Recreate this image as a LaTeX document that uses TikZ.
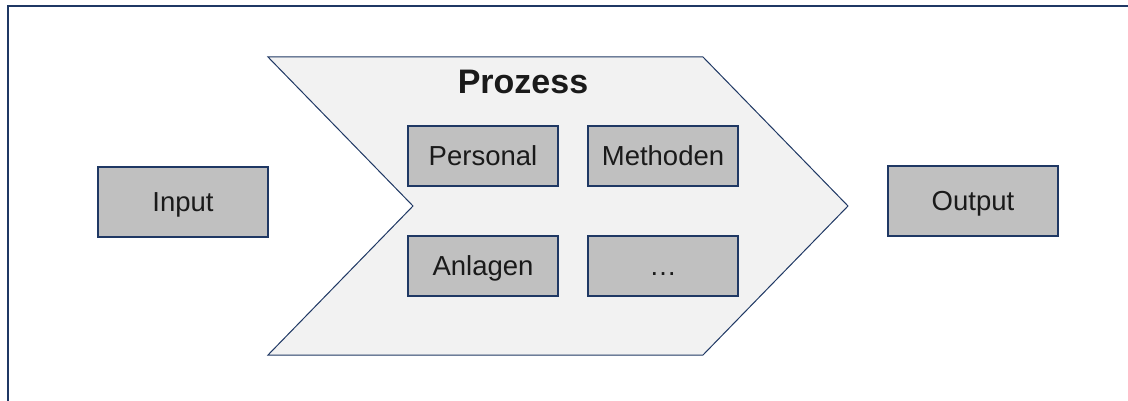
\documentclass[tikz,border=0pt]{standalone}
\usepackage{fontspec}
\setmainfont{Liberation Sans}
\definecolor{navy}{HTML}{1F3864}
\definecolor{boxgray}{HTML}{C0C0C0}
\definecolor{arrowfill}{HTML}{F2F2F2}
\definecolor{ink}{HTML}{1A1A1A}
\tikzset{
  item/.style={draw=navy, line width=1.2pt, fill=boxgray, text=ink,
    minimum width=150pt, minimum height=60pt, inner sep=0pt,
    text height=19.7pt, text depth=0pt,
    font=\fontsize{27.5}{32}\selectfont},
  endbox/.style={item, minimum width=170pt, minimum height=70pt},
}
\begin{document}
\begin{tikzpicture}[x=1pt, y=-1pt]
\useasboundingbox (0,0) rectangle (1128,401);
% outer frame, running past the right and bottom edges
\begin{scope}
\clip (0,0) rectangle (1128,401);
\draw[navy, line width=1.2pt] (8,6) rectangle (1140,420);
\end{scope}
% process chevron
\draw[navy, line width=1pt, fill=arrowfill, line join=miter]
  (268,57) -- (703,57) -- (848,206) -- (703,355) -- (268,355) -- (413,206) -- cycle;
\node[text=ink, inner sep=0pt, text height=24.4pt, text depth=0pt,
  font=\bfseries\fontsize{34}{38}\selectfont] (title) at (523,81) {Prozess};
% inputs and outputs
\node[endbox] (input) at (183,202) {Input};
\node[endbox] (output) at (973,201) {Output};
% resources
\node[item] (personal) at (483,156) {Personal};
\node[item] (methoden) at (663,156) {Methoden};
\node[item] (anlagen) at (483,266) {Anlagen};
\node[item] (more) at (663,266) {…};
\end{tikzpicture}
\end{document}
